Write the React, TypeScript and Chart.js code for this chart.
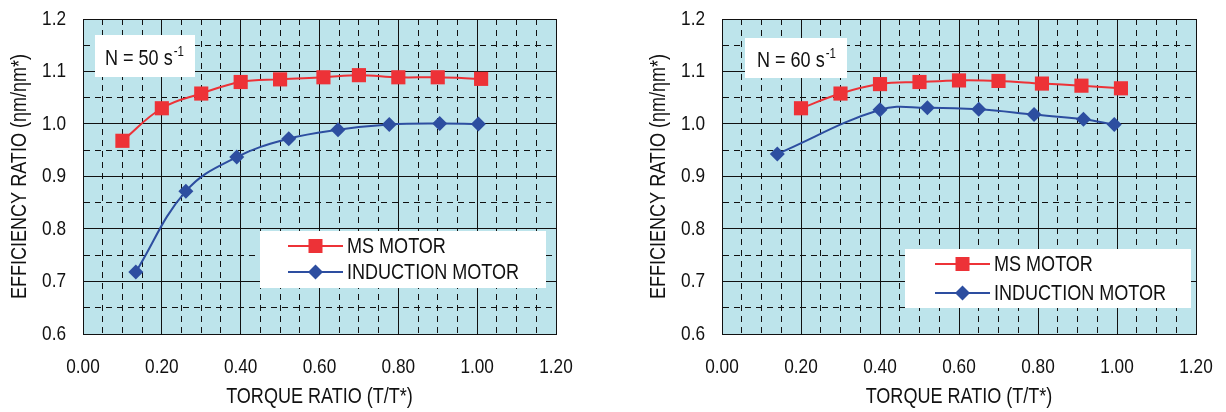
import React, { useEffect, useRef } from 'react';
import { Chart, registerables } from 'chart.js';

Chart.register(...registerables);

const FONT = "'Liberation Sans', Arial, sans-serif";
const NARROW = 0.82; // horizontal condensing, to mimic a narrow sans face

// Grid/tick values (every 0.05; labels only on majors)
const xGridValues = [0, 0.05, 0.1, 0.15, 0.2, 0.25, 0.3, 0.35, 0.4, 0.45, 0.5, 0.55, 0.6, 0.65, 0.7, 0.75, 0.8, 0.85, 0.9, 0.95, 1.0, 1.05, 1.1, 1.15, 1.2];
const yGridValues = [0.6, 0.65, 0.7, 0.75, 0.8, 0.85, 0.9, 0.95, 1.0, 1.05, 1.1, 1.15, 1.2];
const xTickLabels = ['0.00', '0.20', '0.40', '0.60', '0.80', '1.00', '1.20'];
const yTickLabels = ['0.6', '0.7', '0.8', '0.9', '1.0', '1.1', '1.2'];

const seriesNames = ['MS MOTOR', 'INDUCTION MOTOR'];

// N = 50 s^-1
const ms50X = [0.10, 0.20, 0.30, 0.40, 0.50, 0.61, 0.70, 0.80, 0.90, 1.01];
const ms50Y = [0.968, 1.030, 1.058, 1.080, 1.085, 1.089, 1.093, 1.089, 1.089, 1.086];
const ind50X = [0.134, 0.261, 0.390, 0.522, 0.647, 0.777, 0.905, 1.003];
const ind50Y = [0.718, 0.872, 0.937, 0.972, 0.989, 0.999, 1.001, 1.000];

// N = 60 s^-1
const ms60X = [0.20, 0.30, 0.40, 0.50, 0.60, 0.70, 0.81, 0.91, 1.01];
const ms60Y = [1.030, 1.058, 1.076, 1.080, 1.083, 1.082, 1.077, 1.073, 1.068];
const ind60X = [0.14, 0.40, 0.52, 0.65, 0.79, 0.915, 0.993];
const ind60Y = [0.943, 1.027, 1.031, 1.028, 1.018, 1.009, 0.999];

const RED = '#ED3237';
const BLUE = '#2D4EA0';
const BG = '#BDE4EB';

type Panel = {
  left: number;
  width: number;
  note: string;
  msX: number[]; msY: number[]; indX: number[]; indY: number[];
  yAxisWidth: number;
  padRight: number;
  yTitlePad: number;
  noteBox: [number, number, number, number];
  noteText: [number, number];
  legendBox: [number, number, number, number];
  legendRows: [number, number];
  legendLine: [number, number];
  legendText: number;
};

const panels: Panel[] = [
  {
    left: 0, width: 610, note: '50',
    msX: ms50X, msY: ms50Y, indX: ind50X, indY: ind50Y,
    yAxisWidth: 83, padRight: 54, yTitlePad: 7,
    noteBox: [95, 35, 100, 42], noteText: [105, 65],
    legendBox: [260, 231, 286, 57], legendRows: [246, 272], legendLine: [288, 343], legendText: 347,
  },
  {
    left: 610, width: 616, note: '60',
    msX: ms60X, msY: ms60Y, indX: ind60X, indY: ind60Y,
    yAxisWidth: 112, padRight: 30, yTitlePad: 36,
    noteBox: [135, 38, 102, 40], noteText: [147, 67],
    legendBox: [295, 249, 286, 59], legendRows: [264, 293], legendLine: [325, 380], legendText: 384,
  },
];

function drawMarker(ctx: CanvasRenderingContext2D, style: string, x: number, y: number, color: string) {
  ctx.save();
  ctx.fillStyle = color;
  ctx.beginPath();
  if (style === 'rect') {
    ctx.rect(x - 7, y - 7, 14, 14);
  } else {
    ctx.moveTo(x - 7.5, y);
    ctx.lineTo(x, y - 7.5);
    ctx.lineTo(x + 7.5, y);
    ctx.lineTo(x, y + 7.5);
    ctx.closePath();
  }
  ctx.fill();
  ctx.restore();
}

function ChartPanel({ p }: { p: Panel }) {
  const ref = useRef<HTMLCanvasElement>(null);
  useEffect(() => {
    const canvas = ref.current;
    if (!canvas) return;
    const c2d = canvas.getContext('2d') as any;
    const origFill = CanvasRenderingContext2D.prototype.fillText;
    c2d.fillText = function (text: string, x: number, y: number, maxWidth?: number) {
      const w = origFill ? this.measureText(text).width * NARROW : 0;
      const mw = maxWidth !== undefined ? Math.min(maxWidth, w) : w;
      origFill.call(this, text, x, y, mw);
    };
    const deco = {
      id: 'deco',
      beforeDraw(chart: any) {
        const { ctx, chartArea: a } = chart;
        ctx.save();
        ctx.fillStyle = BG;
        ctx.fillRect(a.left, a.top, a.right - a.left, a.bottom - a.top);
        ctx.restore();
      },
      beforeDatasetsDraw(chart: any) {
        const ctx: CanvasRenderingContext2D = chart.ctx;
        ctx.save();
        const [bx, by, bw, bh] = p.noteBox;
        ctx.fillStyle = '#fff';
        ctx.fillRect(bx, by, bw, bh);
        ctx.fillStyle = '#111';
        ctx.textBaseline = 'alphabetic';
        ctx.textAlign = 'left';
        ctx.font = `22px ${FONT}`;
        const main = `N = ${p.note} s`;
        ctx.fillText(main, p.noteText[0], p.noteText[1]);
        const w = ctx.measureText(main).width * NARROW;
        ctx.font = `14px ${FONT}`;
        ctx.fillText('-1', p.noteText[0] + w + 1, p.noteText[1] - 9);
        const [lx, ly, lw, lh] = p.legendBox;
        ctx.fillStyle = '#fff';
        ctx.fillRect(lx, ly, lw, lh);
        const ds = chart.data.datasets;
        ds.forEach((d: any, i: number) => {
          const yy = p.legendRows[i];
          ctx.strokeStyle = d.borderColor;
          ctx.lineWidth = 2;
          ctx.beginPath();
          ctx.moveTo(p.legendLine[0], yy);
          ctx.lineTo(p.legendLine[1], yy);
          ctx.stroke();
          drawMarker(ctx, d.pointStyle, (p.legendLine[0] + p.legendLine[1]) / 2, yy, d.borderColor);
          ctx.fillStyle = '#111';
          ctx.font = `22px ${FONT}`;
          ctx.textBaseline = 'middle';
          ctx.fillText(d.label, p.legendText, yy + 1);
        });
        ctx.restore();
      },
    };
    const dashFor = (every: number) => (c: any) =>
      c.type === 'tick' && c.index % every !== 0 ? [6, 5] : [];
    const chart = new Chart(canvas, {
      type: 'line',
      data: {
        datasets: [
          {
            label: seriesNames[0],
            data: p.msX.map((x, i) => ({ x, y: p.msY[i] })),
            borderColor: RED, backgroundColor: RED,
            pointBackgroundColor: RED, pointBorderColor: RED,
            pointStyle: 'rect', pointRadius: 10, pointBorderWidth: 0,
            borderWidth: 2, tension: 0.4, fill: false,
          },
          {
            label: seriesNames[1],
            data: p.indX.map((x, i) => ({ x, y: p.indY[i] })),
            borderColor: BLUE, backgroundColor: BLUE,
            pointBackgroundColor: BLUE, pointBorderColor: BLUE,
            pointStyle: 'rectRot', pointRadius: 7.5, pointBorderWidth: 0,
            borderWidth: 2, tension: 0.4, fill: false,
          },
        ],
      },
      options: {
        animation: false,
        responsive: false,
        events: [],
        layout: { padding: { top: 19, right: p.padRight, left: 0, bottom: 0 } },
        plugins: { legend: { display: false }, tooltip: { enabled: false } },
        scales: {
          x: {
            type: 'linear', min: 0, max: 1.2,
            afterBuildTicks: (s: any) => { s.ticks = xGridValues.map((v) => ({ value: v })); },
            afterFit: (s: any) => { s.height = 78; s.paddingLeft = 0; s.paddingRight = 0; },
            ticks: {
              autoSkip: false, maxRotation: 0, minRotation: 0, padding: 21, color: '#111',
              font: { family: FONT, size: 21 },
              callback: (_v: any, i: number) => (i % 4 === 0 ? xTickLabels[i / 4] : ''),
            },
            grid: { drawTicks: false, color: '#111', lineWidth: 1 },
            border: { display: true, color: '#111', width: 1, dash: dashFor(4) },
            title: {
              display: true, text: 'TORQUE RATIO (T/T*)', color: '#111',
              font: { family: FONT, size: 22 }, padding: { top: 0, bottom: 2 },
            },
          },
          y: {
            type: 'linear', min: 0.6, max: 1.2,
            afterBuildTicks: (s: any) => { s.ticks = yGridValues.map((v) => ({ value: v })); },
            afterFit: (s: any) => { s.width = p.yAxisWidth; s.paddingTop = 0; s.paddingBottom = 0; },
            ticks: {
              autoSkip: false, padding: 17, color: '#111',
              font: { family: FONT, size: 21 },
              callback: (_v: any, i: number) => (i % 2 === 0 ? yTickLabels[i / 2] : ''),
            },
            grid: { drawTicks: false, color: '#111', lineWidth: 1 },
            border: { display: true, color: '#111', width: 1, dash: dashFor(2) },
            title: {
              display: true, text: 'EFFICIENCY RATIO (ηm/ηm*)', color: '#111',
              font: { family: FONT, size: 22 }, padding: { top: p.yTitlePad, bottom: 0 },
            },
          },
        },
      },
      plugins: [deco],
    } as any);
    return () => {
      chart.destroy();
      delete c2d.fillText;
    };
  }, [p]);
  return (
    <canvas
      ref={ref}
      width={p.width}
      height={412}
      style={{ position: 'absolute', left: p.left, top: 0, width: p.width, height: 412 }}
    />
  );
}

export default function App() {
  return (
    <div style={{ position: 'fixed', left: 0, top: 0, width: 1226, height: 412, background: '#fff' }}>
      {panels.map((p, i) => (
        <ChartPanel key={i} p={p} />
      ))}
    </div>
  );
}
